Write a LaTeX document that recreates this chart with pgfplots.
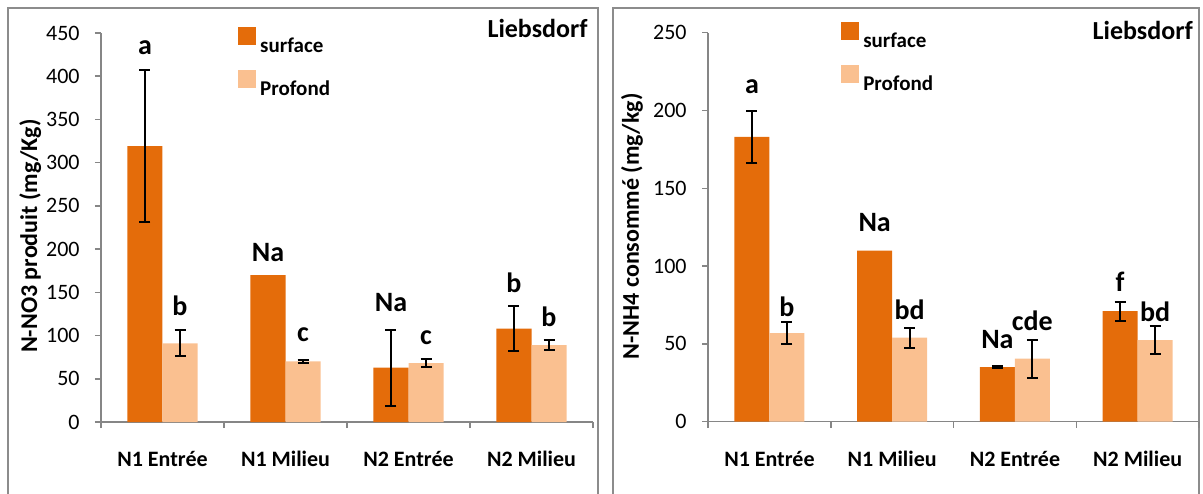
\documentclass[border=0pt]{standalone}
\usepackage{fontspec}
\setmainfont{Carlito}
\usepackage{pgfplots}
\pgfplotsset{compat=1.18}
\definecolor{surf}{HTML}{E46C0A}
\definecolor{prof}{HTML}{FAC090}
\definecolor{axgray}{HTML}{868686}
\definecolor{framegray}{HTML}{8C8C8C}
\tikzset{lbl/.style={font=\bfseries\fontsize{14}{16}\selectfont, inner sep=0pt}}
\pgfplotsset{
 mystyle/.style={
  scale only axis, clip=false,
  anchor=south west,
  height=194.5pt,
  xmin=0, xmax=4, ymin=0,
  axis x line*=bottom, axis y line*=left,
  axis line style={axgray, line width=0.75pt},
  tick align=outside, major tick length=3pt,
  tick style={axgray, line width=0.75pt},
  xtick={0,1,2,3,4},
  xticklabels={N1 Entrée, N1 Milieu, N2 Entrée, N2 Milieu, {}},
  xticklabel style={font=\bfseries\fontsize{11}{13}\selectfont, anchor=center, yshift=-15.5pt},
  yticklabel style={font=\fontsize{11}{13}\selectfont, anchor=east, inner sep=0pt, xshift=-7.5pt},
  /pgf/number format/assume math mode=true,
  ylabel style={font=\bfseries\fontsize{12}{14}\selectfont, anchor=center},
  title style={font=\bfseries\fontsize{13}{15}\selectfont, anchor=east, inner sep=0pt},
  bar width=0.2846,
  legend style={draw=none, fill=none, anchor=north west, inner sep=0pt, font=\bfseries\fontsize{10.5}{12}\selectfont, row sep=5pt},
  legend cell align=left,
 },
 errs/.style={draw=none, mark=none, forget plot,
  error bars/.cd, y dir=both, y explicit,
  error bar style={draw=black, line width=1pt},
  error mark options={draw=black, rotate=90, mark size=2.75pt, line width=1pt}},
}
\begin{document}
\begin{tikzpicture}
\path[use as bounding box] (0pt,0pt) rectangle (601.5pt,246.5pt);
\draw[framegray, line width=1pt] (4pt,-2pt) -- (4pt,242.5pt) -- (299pt,242.5pt) -- (299pt,-2pt);
\draw[framegray, line width=1pt] (306.5pt,-2pt) -- (306.5pt,242.5pt) -- (599.25pt,242.5pt) -- (599.25pt,-2pt);

\begin{axis}[mystyle, at={(50.5pt,35.5pt)}, width=246pt,
  xticklabel style={xshift=30.75pt},
  ymax=450, ytick={0,50,...,450},
  ylabel={N-NO3 produit (mg/Kg)},
  ylabel style={at={(axis description cs:-0.144,0.478)}},
  title={Liebsdorf}, title style={at={(axis description cs:0.9898,0.9795)}},
  legend style={at={(axis description cs:0.2785,1.016)}}]
\addlegendimage{legend image code/.code={\fill[surf] (0pt,1.25pt) rectangle (8.5pt,9.75pt);}}
\addlegendentry{surface}
\addlegendimage{legend image code/.code={\fill[prof] (0pt,1.25pt) rectangle (8.5pt,9.75pt);}}
\addlegendentry{Profond}
\addplot[ybar, bar shift=-0.1423, fill=surf, draw=none, forget plot] coordinates {(0.5,319) (1.5,170) (2.5,63) (3.5,108)};
\addplot[ybar, bar shift=0.1423, fill=prof, draw=none, forget plot] coordinates {(0.5,91) (1.5,70) (2.5,68) (3.5,89)};
\addplot[errs] coordinates {(0.3577,319) +- (0,88) (2.3577,63) +- (0,44) (3.3577,108) +- (0,26)};
\addplot[errs] coordinates {(0.6423,91) +- (0,15) (1.6423,70) +- (0,2) (2.6423,68) +- (0,4.5) (3.6423,89) +- (0,5.5)};
\node[lbl] at (axis cs:0.3577,433) {a};
\node[lbl] at (axis cs:0.6423,134) {b};
\node[lbl] at (axis cs:1.3577,195.5) {Na};
\node[lbl] at (axis cs:1.6423,100.6) {c};
\node[lbl] at (axis cs:2.3577,137.7) {Na};
\node[lbl] at (axis cs:2.6423,98) {c};
\node[lbl] at (axis cs:3.3577,161) {b};
\node[lbl] at (axis cs:3.6423,121.5) {b};
\end{axis}

\begin{axis}[mystyle, at={(354pt,35.65pt)}, width=245.5pt,
  xticklabel style={xshift=30.7pt},
  ymax=250, ytick={0,50,...,250},
  ylabel={N-NH4 consommé (mg/kg)},
  ylabel style={at={(axis description cs:-0.155,0.502)}},
  title={Liebsdorf}, title style={at={(axis description cs:0.988,0.976)}},
  legend style={at={(axis description cs:0.271,1.028)}}]
\addlegendimage{legend image code/.code={\fill[surf] (0pt,1.25pt) rectangle (8.5pt,9.75pt);}}
\addlegendentry{surface}
\addlegendimage{legend image code/.code={\fill[prof] (0pt,1.25pt) rectangle (8.5pt,9.75pt);}}
\addlegendentry{Profond}
\addplot[ybar, bar shift=-0.1423, fill=surf, draw=none, forget plot] coordinates {(0.5,183) (1.5,110) (2.5,35) (3.5,71)};
\addplot[ybar, bar shift=0.1423, fill=prof, draw=none, forget plot] coordinates {(0.5,57) (1.5,54) (2.5,40.5) (3.5,52.5)};
\addplot[errs] coordinates {(0.3577,183) +- (0,16.5) (2.3577,35) +- (0,0.8) (3.3577,71) +- (0,6)};
\addplot[errs] coordinates {(0.6423,57) +- (0,6.8) (1.6423,54) +- (0,6.5) (2.6423,40.5) +- (0,12.3) (3.6423,52.5) +- (0,8.9)};
\node[lbl] at (axis cs:0.3577,215) {a};
\node[lbl] at (axis cs:0.6423,74) {b};
\node[lbl] at (axis cs:1.3577,128) {Na};
\node[lbl] at (axis cs:1.6423,71.8) {bd};
\node[lbl] at (axis cs:2.3577,52.5) {Na};
\node[lbl] at (axis cs:2.6423,65) {cde};
\node[lbl] at (axis cs:3.3577,90) {f};
\node[lbl] at (axis cs:3.6423,70.7) {bd};
\end{axis}
\end{tikzpicture}
\end{document}
